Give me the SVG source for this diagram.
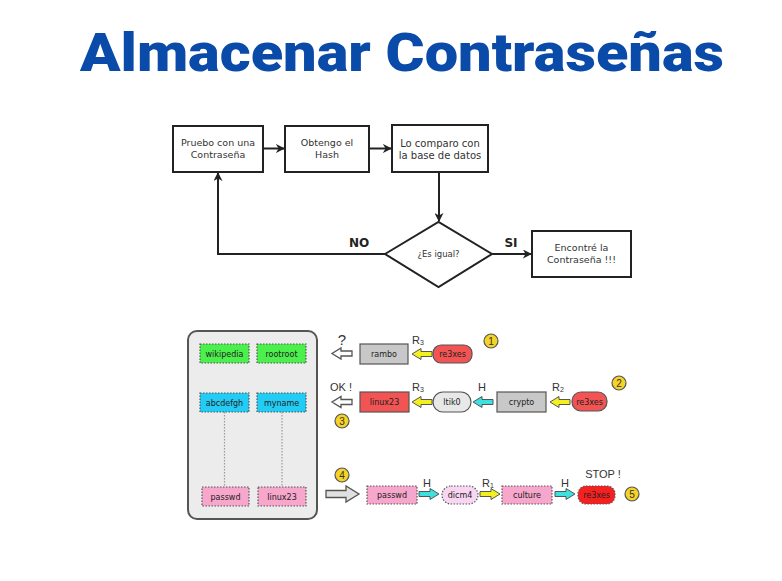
<svg xmlns="http://www.w3.org/2000/svg" width="782" height="581" viewBox="0 0 782 581">
  <style>
    .title { font-family: Roboto, "Liberation Sans", sans-serif; font-weight: 900; font-size: 54px; fill: #0a4aa8; }
    .box { fill: #ffffff; stroke: #222; stroke-width: 2; }
    .ft { font-family: "DejaVu Sans", sans-serif; font-size: 9.5px; fill: #333; text-anchor: middle; }
    .lbl { font-family: "DejaVu Sans", sans-serif; font-size: 12px; font-weight: 700; fill: #222; text-anchor: middle; }
    .link { fill: none; stroke: #222; stroke-width: 2; }
    .panel { fill: #ececec; stroke: #555; stroke-width: 2; }
    .cell { stroke: #555; stroke-width: 1.2; stroke-dasharray: 1.5 1.5; }
    .solid { stroke: #555; stroke-width: 1.2; }
    .st { font-family: "DejaVu Sans", sans-serif; font-size: 8px; fill: #222; text-anchor: middle; }
    .note { font-family: "Liberation Sans", sans-serif; font-size: 11px; fill: #333; text-anchor: middle; }
    .num { fill: #f5d327; stroke: #555; stroke-width: 1.2; }
    .numt { font-family: "Liberation Sans", sans-serif; font-size: 10px; fill: #333; text-anchor: middle; }
    .green { fill: #4cf04c; }
    .blue { fill: #22ccf5; }
    .pink { fill: #f7a6cc; }
    .gray { fill: #c8c8c8; }
    .red { fill: #f25454; }
    .yel { fill: #f2f020; stroke: #555; stroke-width: 1; }
    .cya { fill: #3ee0e0; stroke: #555; stroke-width: 1; }
    .hol { fill: #ffffff; stroke: #555; stroke-width: 1.3; }
    .dots { stroke: #999; stroke-width: 1.2; stroke-dasharray: 1.5 1.5; fill: none; }
  </style>
  <defs>
    <marker id="head" viewBox="0 0 10 10" refX="9" refY="5" markerWidth="9" markerHeight="9" markerUnits="userSpaceOnUse" orient="auto">
      <path d="M0,0 L10,5 L0,10 L3,5 Z" fill="#222"/>
    </marker>
    <!-- small block arrow pointing right, origin at tail centre -->
    <path id="fat" d="M0,-2.5 H11 V-5.5 L20,0 L11,5.5 V2.5 H0 Z"/>
    <!-- large block arrow pointing right -->
    <path id="big" d="M0,-3.5 H20 V-8 L33,0 L20,8 V3.5 H0 Z"/>
  </defs>

  <text class="title" x="402" y="71" text-anchor="middle" textLength="644" lengthAdjust="spacingAndGlyphs">Almacenar Contraseñas</text>

  <!-- flowchart -->
  <g id="connectors">
    <path class="link" d="M263,148.5 H284" marker-end="url(#head)"/>
    <path class="link" d="M369,148.5 H391" marker-end="url(#head)"/>
    <path class="link" d="M439,172 V221" marker-end="url(#head)"/>
    <path class="link" d="M492,254 H531" marker-end="url(#head)"/>
    <path class="link" d="M385,254 H218 V173" marker-end="url(#head)"/>
    <text class="lbl" x="359" y="247">NO</text>
    <text class="lbl" x="511" y="247">SI</text>
  </g>
  <g id="try">
    <rect class="box" x="173" y="126" width="90" height="46"/>
    <text class="ft" x="218" y="146">Pruebo con una</text>
    <text class="ft" x="218" y="158">Contraseña</text>
  </g>
  <g id="hash">
    <rect class="box" x="285" y="126" width="84" height="46"/>
    <text class="ft" x="327" y="146">Obtengo el</text>
    <text class="ft" x="327" y="158">Hash</text>
  </g>
  <g id="compare">
    <rect class="box" x="392" y="125" width="96" height="47"/>
    <text class="ft" x="440" y="147" style="font-size:10px">Lo comparo con</text>
    <text class="ft" x="440" y="159" style="font-size:10px">la base de datos</text>
  </g>
  <g id="equal">
    <path class="box" d="M385,254 L438.5,222 L492,254 L438.5,287 Z"/>
    <text class="ft" x="438.5" y="257" style="font-size:8.5px">¿Es igual?</text>
  </g>
  <g id="found">
    <rect class="box" x="532" y="231" width="99" height="46"/>
    <text class="ft" x="581.5" y="251">Encontré la</text>
    <text class="ft" x="581.5" y="263">Contraseña !!!</text>
  </g>

  <!-- rainbow table -->
  <g id="table">
    <rect class="panel" x="188" y="331" width="129" height="188" rx="9"/>
    <line class="dots" x1="224.5" y1="412" x2="224.5" y2="487"/>
    <line class="dots" x1="282" y1="412" x2="282" y2="487"/>
    <rect class="cell green" x="200" y="344" width="49" height="19"/>
    <text class="st" x="224.5" y="356.5">wikipedia</text>
    <rect class="cell green" x="257" y="344" width="49" height="19"/>
    <text class="st" x="281.5" y="356.5">rootroot</text>
    <rect class="cell blue" x="200" y="393" width="49" height="19"/>
    <text class="st" x="224.5" y="405.5">abcdefgh</text>
    <rect class="cell blue" x="257" y="393" width="49" height="19"/>
    <text class="st" x="281.5" y="405.5">myname</text>
    <rect class="cell pink" x="202" y="487" width="47" height="19"/>
    <text class="st" x="225.5" y="499.5">passwd</text>
    <rect class="cell pink" x="258" y="487" width="48" height="19"/>
    <text class="st" x="282" y="499.5">linux23</text>
  </g>

  <!-- chain 1 -->
  <g id="chain1">
    <text class="note" x="342" y="345" style="font-size:15px">?</text>
    <use href="#fat" class="hol" transform="translate(352,353.5) scale(-1,1)"/>
    <rect class="solid gray" x="360" y="344" width="48" height="20"/>
    <text class="st" x="384" y="357">rambo</text>
    <use href="#fat" class="yel" transform="translate(432,354) scale(-1,1)"/>
    <text class="note" x="418" y="344">R<tspan style="font-size:7px" dy="1">3</tspan></text>
    <rect class="solid red" x="433" y="345" width="39" height="18" rx="8"/>
    <text class="st" x="452.5" y="357">re3xes</text>
    <circle class="num" cx="491" cy="341" r="7"/>
    <text class="numt" x="491" y="344.5">1</text>
  </g>

  <!-- chain 2 -->
  <g id="chain2">
    <text class="note" x="341" y="391">OK !</text>
    <use href="#fat" class="hol" transform="translate(352,402) scale(-1,1)"/>
    <circle class="num" cx="342" cy="421" r="7"/>
    <text class="numt" x="342" y="424.5">3</text>
    <rect class="solid red" x="360" y="392" width="49" height="20"/>
    <text class="st" x="384.5" y="405">linux23</text>
    <use href="#fat" class="yel" transform="translate(432,402) scale(-1,1)"/>
    <text class="note" x="418" y="391">R<tspan style="font-size:7px" dy="1">3</tspan></text>
    <rect class="solid" x="433" y="392" width="38" height="20" rx="10" fill="#e8e8e8"/>
    <text class="st" x="452" y="405">ltik0</text>
    <use href="#fat" class="cya" transform="translate(493,402) scale(-1,1)"/>
    <text class="note" x="482" y="391">H</text>
    <rect class="solid gray" x="497" y="392" width="49" height="20"/>
    <text class="st" x="521.5" y="405">crypto</text>
    <use href="#fat" class="yel" transform="translate(570,402) scale(-1,1)"/>
    <text class="note" x="558" y="391">R<tspan style="font-size:7px" dy="1">2</tspan></text>
    <rect class="solid red" x="572" y="392" width="35" height="19" rx="9"/>
    <text class="st" x="589.5" y="404.5">re3xes</text>
    <circle class="num" cx="619" cy="383" r="7"/>
    <text class="numt" x="619" y="386.5">2</text>
  </g>

  <!-- chain 3 -->
  <g id="chain3">
    <circle class="num" cx="342" cy="475" r="7"/>
    <text class="numt" x="342" y="478.5">4</text>
    <use href="#big" class="hol" style="fill:#e0e0e0" transform="translate(326,494)"/>
    <rect class="cell pink" x="367" y="486" width="50" height="18"/>
    <text class="st" x="392" y="498">passwd</text>
    <use href="#fat" class="cya" transform="translate(419,494)"/>
    <text class="note" x="427" y="487">H</text>
    <rect class="cell" x="442" y="486" width="36" height="18" rx="9" fill="#f8d6f2"/>
    <text class="st" x="460" y="498">dicm4</text>
    <use href="#fat" class="yel" transform="translate(480,494)"/>
    <text class="note" x="488" y="487">R<tspan style="font-size:7px" dy="1">1</tspan></text>
    <rect class="cell pink" x="502" y="486" width="50" height="18"/>
    <text class="st" x="527" y="498">culture</text>
    <use href="#fat" class="cya" transform="translate(555,494)"/>
    <text class="note" x="565" y="487">H</text>
    <text class="note" x="603" y="478">STOP !</text>
    <rect class="cell" x="578" y="486" width="37" height="18" rx="8" fill="#f52020"/>
    <text class="st" x="596.5" y="498">re3xes</text>
    <circle class="num" cx="632" cy="494" r="7"/>
    <text class="numt" x="632" y="497.5">5</text>
  </g>
</svg>
